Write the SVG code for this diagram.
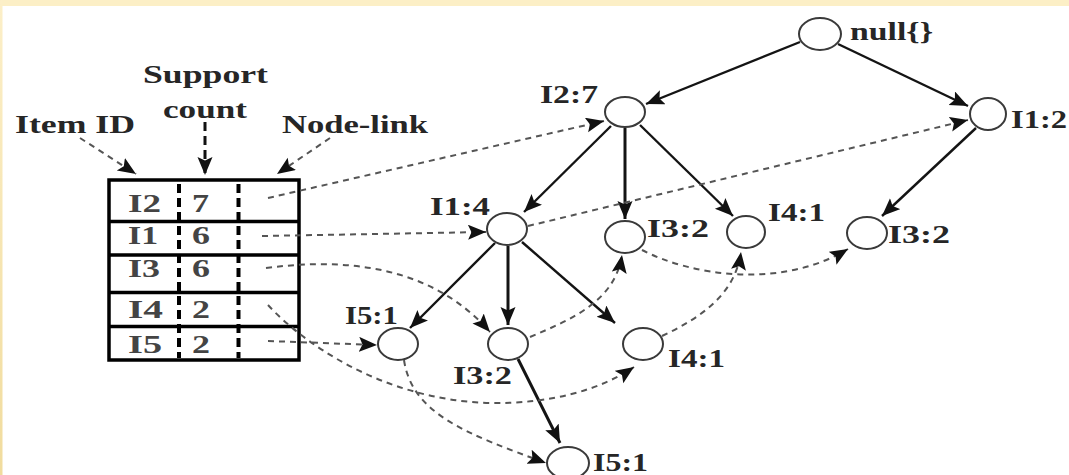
<svg xmlns="http://www.w3.org/2000/svg" width="1069" height="475" viewBox="0 0 1069 475">
  <defs>
    <marker id="arrow" markerUnits="userSpaceOnUse" markerWidth="20" markerHeight="16" refX="18" refY="7.5" orient="auto">
      <path d="M0,0 L18,7.5 L0,15 L3.5,7.5 z" fill="#111"/>
    </marker>
    <linearGradient id="edge" x1="0" y1="0" x2="0" y2="1">
      <stop offset="0" stop-color="#fcefc8"/>
      <stop offset="1" stop-color="#f1dc9e"/>
    </linearGradient>
    <style>
      text { font-family: "Liberation Serif", "Times New Roman", serif; font-weight: bold; font-size: 25px; fill: #262626; }
      .cell { fill: #444; }
      .node ellipse { fill: #fff; stroke: #3a3a3a; stroke-width: 2; }
      .solid { fill: none; stroke: #141414; stroke-width: 2.4; marker-end: url(#arrow); }
      .thick { stroke-width: 3; }
      .dash { fill: none; stroke: #555; stroke-width: 2; stroke-dasharray: 6 5; marker-end: url(#arrow); }
      .dashk { fill: none; stroke: #111; stroke-width: 3; stroke-dasharray: 9 5; marker-end: url(#arrow); }
      .frame { fill: none; stroke: #000; stroke-width: 3.5; }
      .coldiv { stroke: #000; stroke-width: 4; stroke-dasharray: 9 5; }
    </style>
  </defs>

  <!-- page background with tinted edges -->
  <rect x="0" y="0" width="1069" height="475" fill="#fff"/>
  <rect x="0" y="0" width="1069" height="6" fill="#fcefc6"/>
  <rect x="0" y="0" width="2.5" height="475" fill="url(#edge)"/>

  <!-- column headers of the header table -->
  <g id="headers">
    <text x="143" y="83" textLength="125" lengthAdjust="spacingAndGlyphs">Support</text>
    <text x="163" y="118" textLength="84" lengthAdjust="spacingAndGlyphs">count</text>
    <text x="15" y="133" textLength="120" lengthAdjust="spacingAndGlyphs">Item ID</text>
    <text x="282" y="133" textLength="146" lengthAdjust="spacingAndGlyphs">Node-link</text>
  </g>

  <!-- header table: item, support count, node-link -->
  <g id="header-table">
    <rect class="frame" x="109" y="180" width="190" height="180"/>
    <line class="frame" x1="109" y1="221.5" x2="299" y2="221.5"/>
    <line class="frame" x1="109" y1="255" x2="299" y2="255"/>
    <line class="frame" x1="109" y1="292.5" x2="299" y2="292.5"/>
    <line class="frame" x1="109" y1="326.5" x2="299" y2="326.5"/>
    <line class="coldiv" x1="179" y1="184" x2="179" y2="358"/>
    <line class="coldiv" x1="238.5" y1="184" x2="238.5" y2="358"/>
    <text class="cell" x="128" y="212" textLength="33" lengthAdjust="spacingAndGlyphs">I2</text>
    <text class="cell" x="192" y="212" textLength="17" lengthAdjust="spacingAndGlyphs">7</text>
    <text class="cell" x="128" y="244" textLength="30" lengthAdjust="spacingAndGlyphs">I1</text>
    <text class="cell" x="192" y="244" textLength="18" lengthAdjust="spacingAndGlyphs">6</text>
    <text class="cell" x="128" y="277" textLength="32" lengthAdjust="spacingAndGlyphs">I3</text>
    <text class="cell" x="192" y="277" textLength="18" lengthAdjust="spacingAndGlyphs">6</text>
    <text class="cell" x="128" y="318" textLength="35" lengthAdjust="spacingAndGlyphs">I4</text>
    <text class="cell" x="192" y="318" textLength="18" lengthAdjust="spacingAndGlyphs">2</text>
    <text class="cell" x="128" y="353" textLength="34" lengthAdjust="spacingAndGlyphs">I5</text>
    <text class="cell" x="192" y="353" textLength="18" lengthAdjust="spacingAndGlyphs">2</text>
  </g>

  <!-- connectors: tree edges (solid) and node-links (dashed) -->
  <g id="connectors">
    <path class="dash" d="M80,138 L136,174"/>
    <path class="dashk" d="M205,122 L205,175"/>
    <path class="dash" d="M330,138 L277,174"/>

    <path class="solid" d="M800,42 L646,104"/>
    <path class="solid" d="M838,44 L968,106"/>
    <path class="solid" d="M611,126 L524,212"/>
    <path class="solid thick" d="M625,128 L625,219"/>
    <path class="solid" d="M640,125 L733,216"/>
    <path class="solid" d="M976,128 L882,216"/>
    <path class="solid" d="M495,243 L410,328"/>
    <path class="solid thick" d="M508,246 L508,325"/>
    <path class="solid" d="M522,242 L615,323"/>
    <path class="solid thick" d="M518,359 L560,443"/>

    <path class="dash" d="M268,198 L604,121"/>
    <path class="dash" d="M528,226 L968,120"/>
    <path class="dash" d="M262,236 L486,232"/>
    <path class="dash" d="M266,268 C365,255 440,275 490,332"/>
    <path class="dash" d="M530,337 C575,318 615,300 622,255"/>
    <path class="dash" d="M642,250 C690,275 780,290 848,249"/>
    <path class="dash" d="M662,336 C700,318 735,295 741,252"/>
    <path class="dash" d="M268,305 C300,340 380,400 490,403 C550,404 600,390 634,367"/>
    <path class="dash" d="M268,341 L377,345"/>
    <path class="dash" d="M404,360 C412,415 470,435 546,463"/>
  </g>

  <!-- FP-tree nodes -->
  <g id="n-root" class="node">
    <ellipse cx="820" cy="34" rx="21" ry="16"/>
    <text x="850" y="40" textLength="83" lengthAdjust="spacingAndGlyphs">null{}</text>
  </g>
  <g id="n-i2-7" class="node">
    <ellipse cx="625" cy="112" rx="20" ry="15"/>
    <text x="540" y="103" textLength="58" lengthAdjust="spacingAndGlyphs">I2:7</text>
  </g>
  <g id="n-i1-2" class="node">
    <ellipse cx="988" cy="114" rx="18" ry="16"/>
    <text x="1011" y="128" textLength="56" lengthAdjust="spacingAndGlyphs">I1:2</text>
  </g>
  <g id="n-i1-4" class="node">
    <ellipse cx="507" cy="229" rx="20" ry="16"/>
    <text x="430" y="215" textLength="60" lengthAdjust="spacingAndGlyphs">I1:4</text>
  </g>
  <g id="n-i3-2a" class="node">
    <ellipse cx="625" cy="237" rx="20" ry="16"/>
    <text x="647" y="237" textLength="62" lengthAdjust="spacingAndGlyphs">I3:2</text>
  </g>
  <g id="n-i4-1a" class="node">
    <ellipse cx="746" cy="232" rx="19" ry="16"/>
    <text x="768" y="221" textLength="57" lengthAdjust="spacingAndGlyphs">I4:1</text>
  </g>
  <g id="n-i3-2b" class="node">
    <ellipse cx="867" cy="233" rx="20" ry="16"/>
    <text x="888" y="243" textLength="62" lengthAdjust="spacingAndGlyphs">I3:2</text>
  </g>
  <g id="n-i5-1a" class="node">
    <ellipse cx="398" cy="344" rx="20" ry="16"/>
    <text x="345" y="324" textLength="53" lengthAdjust="spacingAndGlyphs">I5:1</text>
  </g>
  <g id="n-i3-2c" class="node">
    <ellipse cx="508" cy="344" rx="20" ry="16"/>
    <text x="453" y="384" textLength="59" lengthAdjust="spacingAndGlyphs">I3:2</text>
  </g>
  <g id="n-i4-1b" class="node">
    <ellipse cx="643" cy="344" rx="20" ry="16"/>
    <text x="668" y="367" textLength="57" lengthAdjust="spacingAndGlyphs">I4:1</text>
  </g>
  <g id="n-i5-1b" class="node">
    <ellipse cx="568" cy="463" rx="21" ry="16"/>
    <text x="593" y="471" textLength="55" lengthAdjust="spacingAndGlyphs">I5:1</text>
  </g>
</svg>
